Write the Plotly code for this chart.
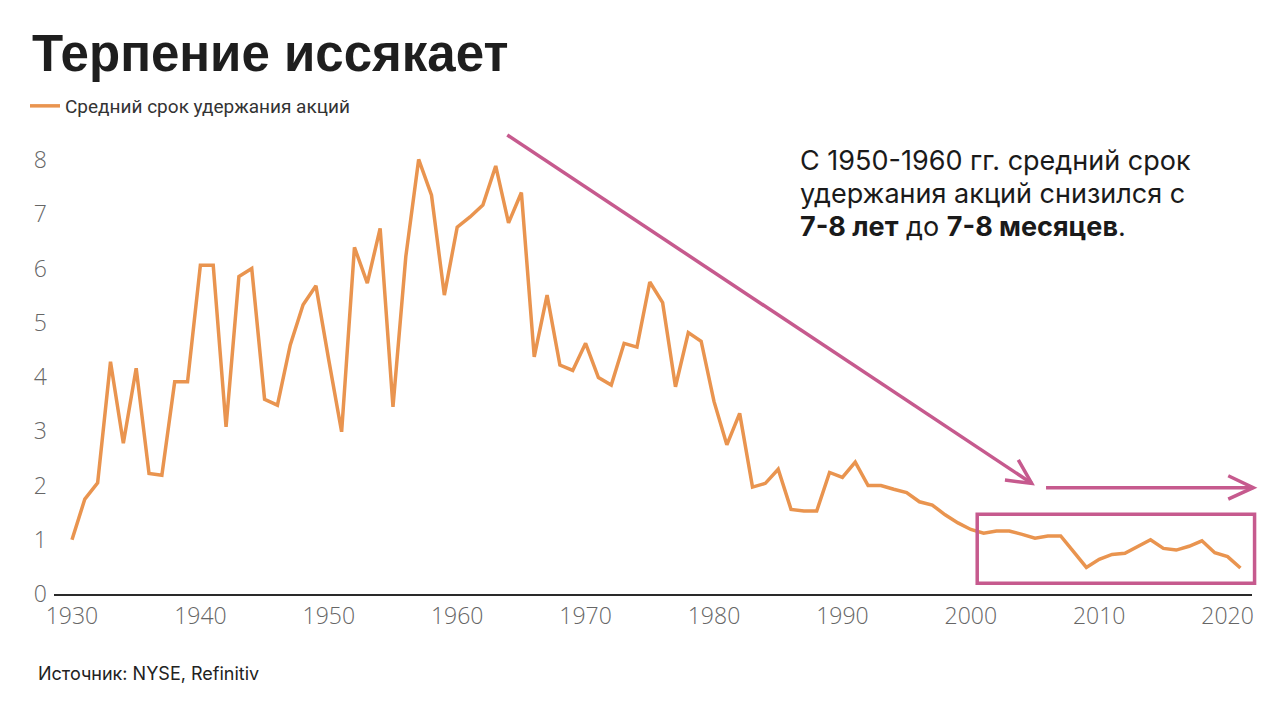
import plotly.graph_objects as go

# Average holding period of NYSE stocks, years
years = list(range(1930, 2022))
holding_years = [
    1.0, 1.75, 2.05, 4.28, 2.78, 4.16, 2.22, 2.19, 3.91, 3.91,
    6.06, 6.06, 3.08, 5.85, 6.0, 3.59, 3.48, 4.59, 5.33, 5.68,
    4.31, 2.99, 6.39, 5.73, 6.74, 3.45, 6.22, 8.01, 7.35, 5.51,
    6.76, 6.95, 7.17, 7.89, 6.84, 7.40, 4.37, 5.51, 4.22, 4.12,
    4.62, 3.99, 3.85, 4.62, 4.55, 5.75, 5.37, 3.82, 4.82, 4.66,
    3.55, 2.75, 3.33, 1.97, 2.04, 2.30, 1.56, 1.53, 1.53, 2.24,
    2.15, 2.43, 2.0, 2.0, 1.93, 1.87, 1.70, 1.64, 1.46, 1.31,
    1.19, 1.12, 1.16, 1.16, 1.10, 1.03, 1.07, 1.07, 0.78, 0.49,
    0.64, 0.73, 0.75, 0.88, 1.0, 0.84, 0.81, 0.88, 0.98, 0.76,
    0.69, 0.48,
]
x_ticks = list(range(1930, 2021, 10))
y_ticks = list(range(0, 9))

series_name = 'Средний срок удержания акций'
title_text = 'Терпение иссякает'
note_lines = [
    'С 1950-1960 гг. средний срок',
    'удержания акций снизился с',
    '<b>7-8 лет</b> до <b>7-8 месяцев</b>.',
]
source_text = 'Источник: NYSE, Refinitiv'

ORANGE = '#E9944F'
PINK = '#C65A8E'

W, H = 1280, 706
M = dict(l=54, r=28, t=122, b=112)
X_RANGE = [1928.6, 2021.9]
Y_RANGE = [0, 8.7]


def to_paper(x, y):
    """data units -> paper fractions, so decoration isn't clipped by the plot area"""
    px = (x - X_RANGE[0]) / (X_RANGE[1] - X_RANGE[0])
    py = (y - Y_RANGE[0]) / (Y_RANGE[1] - Y_RANGE[0])
    return px, py


def pix(x, y):
    """screen pixels -> paper fractions (for text placed outside the axes)"""
    pw = W - M['l'] - M['r']
    ph = H - M['t'] - M['b']
    return (x - M['l']) / pw, (H - M['b'] - y) / ph


def path(points):
    pts = [to_paper(x, y) for x, y in points]
    return 'M ' + ' L '.join(f'{a:.5f},{b:.5f}' for a, b in pts)


fig = go.Figure()
fig.add_trace(go.Scatter(
    x=years, y=holding_years, name=series_name, mode='lines',
    line=dict(color=ORANGE, width=3.5),
))

# highlight box over the 2000s
bx0, by0 = to_paper(2000.5, 0.2)
bx1, by1 = to_paper(2022.1, 1.47)
shapes = [dict(type='rect', xref='paper', yref='paper', x0=bx0, y0=by0, x1=bx1, y1=by1,
               line=dict(color=PINK, width=3.5), fillcolor='rgba(0,0,0,0)')]

# diagonal arrow and flat arrow
arrows = [
    [(1963.9, 8.46), (2004.74, 2.04)],
    [(2003.7, 2.47), (2004.74, 2.04), (2002.66, 2.10)],
    [(2005.86, 1.96), (2022.0, 1.96)],
    [(2020.05, 2.18), (2022.0, 1.96), (2020.05, 1.75)],
]
for pts in arrows:
    shapes.append(dict(type='path', xref='paper', yref='paper', path=path(pts),
                       line=dict(color=PINK, width=3.5)))

annotations = []
tx, ty = pix(30, 53)
annotations.append(dict(text=f'<b>{title_text}</b>', x=tx, y=ty, xref='paper', yref='paper',
                        xanchor='left', yanchor='middle', showarrow=False,
                        font=dict(family='Liberation Sans', size=51, color='#1e1e1e')))
for i, line in enumerate(note_lines):
    nx, ny = pix(798, 160 + 33 * i)
    annotations.append(dict(text=line, x=nx, y=ny, xref='paper', yref='paper',
                            xanchor='left', yanchor='middle', align='left', showarrow=False,
                            font=dict(family='Inter', size=27, color='#1a1a1a')))
sx, sy = pix(36, 673)
annotations.append(dict(text=source_text, x=sx, y=sy, xref='paper', yref='paper',
                        xanchor='left', yanchor='middle', showarrow=False,
                        font=dict(family='Inter', size=18, color='#222222')))

lx, ly = pix(25, 106)
fig.update_layout(
    width=W, height=H,
    margin=M,
    paper_bgcolor='white',
    plot_bgcolor='white',
    showlegend=True,
    legend=dict(x=lx, y=ly, xanchor='left', yanchor='middle', orientation='h',
                font=dict(family='Roboto', size=19, color='#333333'),
                bgcolor='rgba(0,0,0,0)'),
    xaxis=dict(range=X_RANGE, tickvals=x_ticks, showgrid=False, zeroline=False,
               showline=True, linecolor='#2a2a2a', linewidth=2, ticks='',
               tickfont=dict(family='Open Sans', size=23, color='#666666', weight=300)),
    yaxis=dict(range=Y_RANGE, tickvals=y_ticks, showgrid=False, zeroline=False,
               showline=False, ticks='', ticklabelstandoff=6,
               tickfont=dict(family='Open Sans', size=23, color='#666666', weight=300)),
    shapes=shapes,
    annotations=annotations,
)

# the page body has a default 8px margin; drop it so the figure sits at the window corner
fig.write_html('out.html', config={'displayModeBar': False},
               post_script="document.body.style.margin='0';")
